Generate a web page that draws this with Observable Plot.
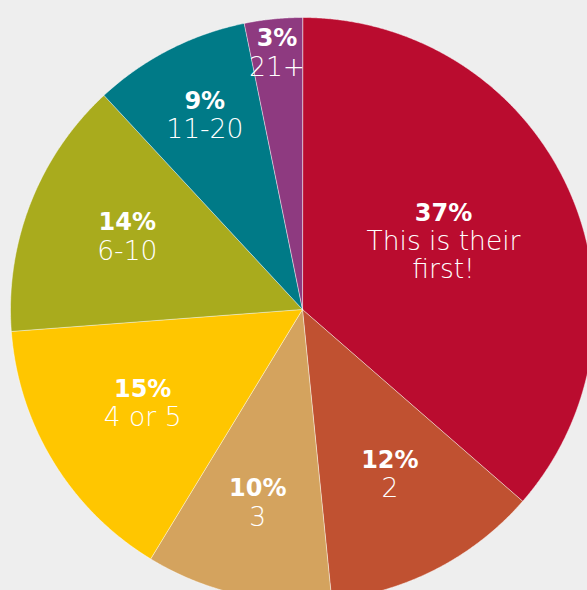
<!DOCTYPE html>
<html><head><meta charset="utf-8">
<script src="https://cdn.jsdelivr.net/npm/d3@7"></script>
<script src="https://cdn.jsdelivr.net/npm/@observablehq/plot@0.6"></script>
<style>html,body{margin:0;padding:0;background:#eeeeee;overflow:hidden}</style>
</head><body><div id="chart"></div>
<script>
// Data (clockwise from 12 o'clock)
const categories = ["This is their\nfirst!", "2", "3", "4 or 5", "6-10", "11-20", "21+"];
const shares = [36.4, 12.0, 10.3, 15.1, 14.3, 8.7, 3.2];
const pctLabels = ["37%", "12%", "10%", "15%", "14%", "9%", "3%"];
const colors = ["#ba0c2f", "#c05131", "#d4a35e", "#ffc600", "#a9ab1d", "#007a87", "#8e3a80"];

const W = 587, H = 590, CX = 302, CY = 309, R = 292, LINE = 28;
const arcs = d3.pie().sort(null).value(d => d)(shares);

const slices = [];
arcs.forEach((a, i) => {
  slices.push({cat: categories[i], x: 0, y: 0});
  const n = Math.max(2, Math.ceil((a.endAngle - a.startAngle) / 0.004));
  for (let j = 0; j <= n; j++) {
    const t = a.startAngle + (a.endAngle - a.startAngle) * j / n;
    slices.push({cat: categories[i], x: Math.sin(t), y: Math.cos(t)});
  }
});

// label block: bold percentage line followed by the category line(s), centred on the slice
const labels = arcs.map((a, i) => {
  const th = a.endAngle - a.startAngle, mid = (a.startAngle + a.endAngle) / 2;
  const r = Math.max(4 * Math.sin(th / 2) / (3 * th), 0.95 - 2.5 * shares[i] / 100);
  const m = categories[i].split("\n").length, n = m + 1;
  const cx = r * Math.sin(mid), cy = r * Math.cos(mid) + 4 / R;
  const yBold = cy + ((n - 1) / 2) * LINE / R;
  const yLight = yBold - (LINE / R) * (1 + (m - 1) / 2);
  return {x: cx, yBold, yLight, pct: pctLabels[i], cat: categories[i]};
});

const base = {x: "x", fontFamily: "DejaVu Sans", fill: "#fff", textAnchor: "middle", lineAnchor: "middle"};

const chart = Plot.plot({
  width: W, height: H, margin: 0,
  x: {domain: [-1, 1], range: [CX - R, CX + R], axis: null},
  y: {domain: [-1, 1], range: [CY + R, CY - R], axis: null},
  color: {domain: categories, range: colors},
  style: {background: "#eeeeee", overflow: "hidden"},
  marks: [
    Plot.line(slices, {x: "x", y: "y", z: "cat", fill: "cat", stroke: "#ffffff", strokeWidth: 0.6, strokeOpacity: 0.8, curve: "linear-closed"}),
    Plot.text(labels, {...base, y: "yBold", text: "pct", fontWeight: 700, fontSize: 24}),
    Plot.text(labels, {...base, y: "yLight", text: "cat", fontWeight: 300, fontSize: 26.5, lineHeight: LINE / 26.5})
  ]
});
document.getElementById("chart").appendChild(chart);
</script>
</body></html>
